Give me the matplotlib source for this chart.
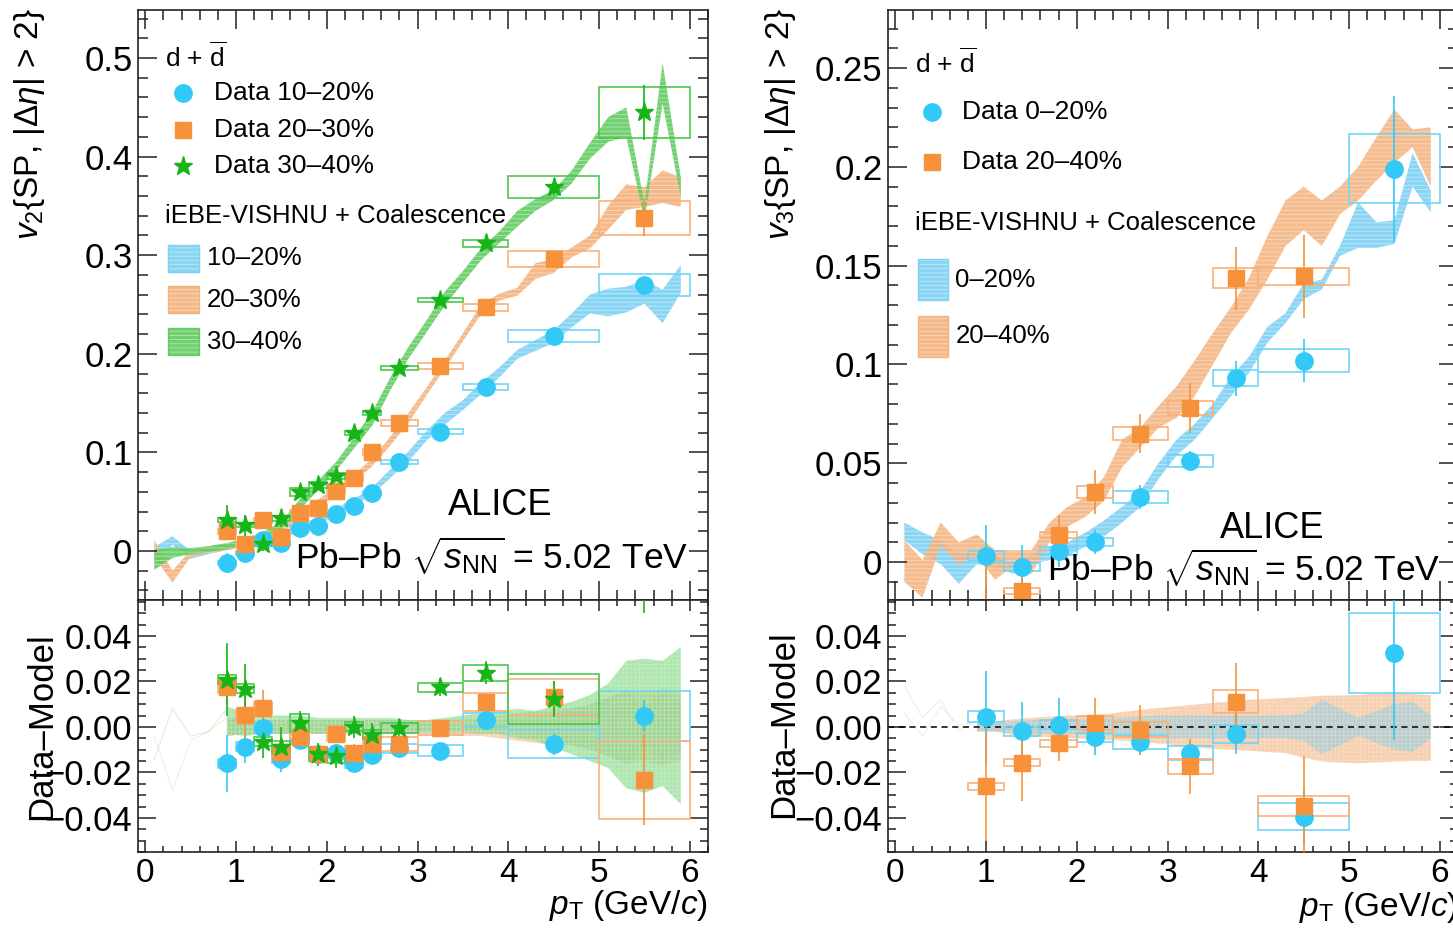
import numpy as np
import matplotlib.pyplot as plt
from matplotlib.patches import Rectangle
from matplotlib.colors import to_rgb
from matplotlib.ticker import MultipleLocator, FuncFormatter

plt.rcParams['font.family'] = ['Liberation Sans', 'DejaVu Sans']
plt.rcParams['mathtext.fontset'] = 'custom'
plt.rcParams['mathtext.rm'] = 'Liberation Sans'
plt.rcParams['mathtext.it'] = 'Liberation Sans:italic'
plt.rcParams['mathtext.bf'] = 'Liberation Sans:bold'
plt.rcParams['hatch.linewidth'] = 0.6

# ---------------- data: v2 (left) ----------------
pt_v2 = [0.9, 1.1, 1.3, 1.5, 1.7, 1.9, 2.1, 2.3, 2.5, 2.8, 3.25, 3.75, 4.5, 5.5]
pt_v2_lo = [0.8, 1.0, 1.2, 1.4, 1.6, 1.8, 2.0, 2.2, 2.4, 2.6, 3.0, 3.5, 4.0, 5.0]
pt_v2_hi = [1.0, 1.2, 1.4, 1.6, 1.8, 2.0, 2.2, 2.4, 2.6, 3.0, 3.5, 4.0, 5.0, 6.0]

v2_c1020 = [-0.012, -0.002, 0.011, 0.008, 0.023, 0.025, 0.038, 0.046, 0.059, 0.090, 0.121, 0.166, 0.218, 0.270]
v2_c2030 = [0.020, 0.007, 0.031, 0.014, 0.039, 0.044, 0.061, 0.074, 0.100, 0.130, 0.188, 0.247, 0.296, 0.338]
v2_c3040 = [0.031, 0.026, 0.007, 0.033, 0.060, 0.067, 0.076, 0.120, 0.140, 0.186, 0.255, 0.312, 0.369, 0.445]

stat_v2_c1020 = [0.010, 0.007, 0.004, 0.006, 0.004, 0.004, 0.004, 0.004, 0.004, 0.003, 0.003, 0.004, 0.005, 0.007]
stat_v2_c2030 = [0.008, 0.010, 0.008, 0.006, 0.004, 0.004, 0.004, 0.004, 0.003, 0.003, 0.003, 0.004, 0.008, 0.019]
stat_v2_c3040 = [0.016, 0.011, 0.007, 0.009, 0.005, 0.005, 0.005, 0.005, 0.005, 0.004, 0.004, 0.005, 0.008, 0.028]

syst_v2_c1020 = [0.002, 0.002, 0.002, 0.002, 0.002, 0.002, 0.002, 0.002, 0.002, 0.002, 0.0025, 0.003, 0.006, 0.011]
syst_v2_c2030 = [0.0025, 0.0025, 0.0025, 0.003, 0.003, 0.003, 0.003, 0.003, 0.003, 0.003, 0.003, 0.004, 0.008, 0.017]
syst_v2_c3040 = [0.002, 0.002, 0.002, 0.003, 0.004, 0.003, 0.003, 0.002, 0.002, 0.002, 0.002, 0.0035, 0.011, 0.026]

# Data - Model (left)
r2_c1020 = [-0.016, -0.0088, -0.0005, -0.014, -0.0057, -0.012, -0.0115, -0.016, -0.0123, -0.0094, -0.0105, 0.003, -0.0075, 0.0049]
r2_c2030 = [0.0176, 0.0053, 0.0083, -0.011, -0.0044, -0.012, -0.003, -0.0114, -0.0075, -0.0075, -0.0004, 0.011, 0.0132, -0.0233]
r2_c3040 = [0.0207, 0.0167, -0.0065, -0.009, 0.0018, -0.012, -0.013, 0.000, -0.0035, -0.0005, 0.0175, 0.0238, 0.0122, 0.090]
rstat2_c1020 = [0.0125, 0.007, 0.005, 0.006, 0.004, 0.004, 0.004, 0.004, 0.004, 0.003, 0.003, 0.004, 0.005, 0.007]
rstat2_c2030 = [0.008, 0.010, 0.008, 0.006, 0.004, 0.004, 0.004, 0.004, 0.003, 0.003, 0.003, 0.004, 0.007, 0.020]
rstat2_c3040 = [0.016, 0.011, 0.007, 0.009, 0.005, 0.005, 0.005, 0.005, 0.005, 0.004, 0.004, 0.005, 0.008, 0.040]

# model bands (iEBE-VISHNU + coalescence), v2
pt_band = [0.1, 0.3, 0.5, 0.7, 0.9, 1.1, 1.3, 1.5, 1.7, 1.9, 2.1, 2.3, 2.5, 2.7, 2.9,
           3.1, 3.3, 3.5, 3.7, 3.9, 4.1, 4.3, 4.5, 4.7, 4.9, 5.1, 5.3, 5.5, 5.7, 5.9]
m2_c1020_lo = [-0.009, 0.006, -0.008, -0.003, 0.001, 0.004, 0.008, 0.013, 0.019, 0.027, 0.036, 0.046, 0.057, 0.074, 0.091,
               0.112, 0.128, 0.143, 0.159, 0.176, 0.195, 0.203, 0.211, 0.227, 0.241, 0.238, 0.242, 0.251, 0.231, 0.262]
m2_c1020_hi = [0.004, 0.015, 0.000, 0.004, 0.007, 0.010, 0.014, 0.019, 0.026, 0.034, 0.043, 0.053, 0.064, 0.083, 0.101,
               0.122, 0.140, 0.153, 0.171, 0.186, 0.204, 0.214, 0.224, 0.241, 0.260, 0.266, 0.268, 0.275, 0.265, 0.290]
m2_c2030_lo = [-0.006, -0.032, -0.006, -0.002, 0.001, 0.004, 0.009, 0.018, 0.033, 0.045, 0.057, 0.070, 0.086, 0.107, 0.130,
               0.158, 0.185, 0.213, 0.240, 0.254, 0.259, 0.276, 0.282, 0.298, 0.307, 0.326, 0.346, 0.349, 0.353, 0.349]
m2_c2030_hi = [0.011, -0.020, 0.001, 0.004, 0.007, 0.010, 0.016, 0.025, 0.040, 0.052, 0.064, 0.077, 0.094, 0.116, 0.140,
               0.166, 0.193, 0.221, 0.250, 0.261, 0.267, 0.292, 0.296, 0.308, 0.320, 0.350, 0.372, 0.369, 0.386, 0.379]
m2_c3040_lo = [-0.019, -0.007, -0.003, -0.001, 0.002, 0.006, 0.012, 0.022, 0.042, 0.061, 0.081, 0.104, 0.127, 0.163, 0.195,
               0.222, 0.249, 0.272, 0.295, 0.312, 0.329, 0.345, 0.356, 0.373, 0.398, 0.415, 0.420, 0.336, 0.454, 0.359]
m2_c3040_hi = [0.001, 0.004, 0.003, 0.005, 0.008, 0.013, 0.019, 0.030, 0.052, 0.071, 0.090, 0.115, 0.141, 0.176, 0.207,
               0.234, 0.263, 0.284, 0.307, 0.324, 0.345, 0.357, 0.366, 0.386, 0.414, 0.440, 0.450, 0.352, 0.495, 0.379]

# model uncertainty in the Data-Model panels
pt_r = [0.9, 1.1, 1.3, 1.5, 1.7, 1.9, 2.1, 2.3, 2.5, 2.7, 2.9, 3.1, 3.3,
        3.5, 3.7, 3.9, 4.1, 4.3, 4.5, 4.7, 4.9, 5.1, 5.3, 5.5, 5.7, 5.9]
rb2_c1020_half = [0.004, 0.003, 0.003, 0.003, 0.003, 0.003, 0.003, 0.003, 0.003, 0.003, 0.003, 0.003, 0.003,
                  0.003, 0.003, 0.003, 0.004, 0.005, 0.006, 0.008, 0.010, 0.013, 0.016, 0.008, 0.015, 0.011]
rb2_c2030_half = [0.004, 0.003, 0.003, 0.003, 0.003, 0.003, 0.003, 0.003, 0.003, 0.003, 0.003, 0.003, 0.003,
                  0.004, 0.004, 0.005, 0.006, 0.007, 0.008, 0.008, 0.010, 0.013, 0.016, 0.015, 0.017, 0.015]
rb2_c3040_lo = [-0.003, -0.004, -0.003, -0.003, -0.003, -0.003, -0.003, -0.002, -0.002, -0.002, -0.002, -0.002, -0.002,
                -0.002, -0.003, -0.003, -0.005, -0.006, -0.009, -0.012, -0.015, -0.018, -0.027, -0.029, -0.026, -0.034]
rb2_c3040_hi = [0.009, 0.006, 0.005, 0.005, 0.005, 0.004, 0.004, 0.004, 0.004, 0.004, 0.003, 0.003, 0.004,
                0.005, 0.006, 0.007, 0.008, 0.007, 0.009, 0.011, 0.014, 0.019, 0.029, 0.030, 0.029, 0.035]
pt_faint = [0.1, 0.3, 0.5, 0.7, 0.9]
faint2_a = [-0.014, 0.008, -0.004, -0.002, 0.008]
faint2_b = [-0.004, -0.028, -0.006, -0.002, 0.004]

# ---------------- data: v3 (right) ----------------
pt_v3 = [1.0, 1.4, 1.8, 2.2, 2.7, 3.25, 3.75, 4.5, 5.5]
pt_v3_lo = [0.8, 1.2, 1.6, 2.0, 2.4, 3.0, 3.5, 4.0, 5.0]
pt_v3_hi = [1.2, 1.6, 2.0, 2.4, 3.0, 3.5, 4.0, 5.0, 6.0]

v3_c0020 = [0.003, -0.0025, 0.0056, 0.010, 0.033, 0.051, 0.093, 0.102, 0.199]
v3_c2040 = [-0.026, -0.0147, 0.0137, 0.0355, 0.065, 0.078, 0.1437, 0.1447]
stat_v3_c0020 = [0.016, 0.011, 0.008, 0.006, 0.006, 0.005, 0.009, 0.011, 0.037]
stat_v3_c2040 = [0.026, 0.017, 0.010, 0.011, 0.010, 0.0125, 0.016, 0.021]
syst_v3_c0020 = [0.0025, 0.002, 0.002, 0.002, 0.003, 0.003, 0.004, 0.006, 0.0175]
syst_v3_c2040 = [0.0015, 0.0015, 0.0015, 0.003, 0.0033, 0.0035, 0.005, 0.0043]

r3_c0020 = [0.0045, -0.002, 0.0009, -0.0045, -0.0065, -0.0116, -0.0031, -0.0394, 0.0324]
r3_c2040 = [-0.0262, -0.0157, -0.0072, 0.0016, -0.0013, -0.0174, 0.0111, -0.0347]
rstat3_c0020 = [0.020, 0.013, 0.012, 0.008, 0.006, 0.005, 0.009, 0.012, 0.038]
rstat3_c2040 = [0.024, 0.017, 0.008, 0.011, 0.011, 0.012, 0.017, 0.022]

m3_c0020_lo = [0.011, 0.004, -0.001, -0.011, -0.001, -0.002, -0.006, -0.001, 0.001, 0.003, 0.008, 0.013, 0.020, 0.028, 0.042,
               0.054, 0.062, 0.073, 0.084, 0.096, 0.111, 0.121, 0.133, 0.138, 0.155, 0.159, 0.159, 0.161, 0.190, 0.177]
m3_c0020_hi = [0.020, 0.015, 0.011, 0.004, 0.005, 0.003, -0.001, 0.004, 0.008, 0.010, 0.015, 0.021, 0.028, 0.036, 0.050,
               0.062, 0.070, 0.080, 0.094, 0.104, 0.119, 0.126, 0.141, 0.143, 0.160, 0.182, 0.172, 0.173, 0.207, 0.188]
m3_c2040_lo = [-0.010, -0.018, 0.008, -0.001, 0.003, -0.009, -0.002, -0.006, 0.010, 0.018, 0.023, 0.031, 0.048, 0.058, 0.068,
               0.073, 0.084, 0.100, 0.116, 0.128, 0.143, 0.160, 0.168, 0.160, 0.176, 0.183, 0.193, 0.202, 0.210, 0.190]
m3_c2040_hi = [0.011, 0.001, 0.020, 0.010, 0.014, 0.006, 0.006, 0.006, 0.020, 0.028, 0.033, 0.043, 0.062, 0.068, 0.079,
               0.089, 0.102, 0.116, 0.129, 0.144, 0.165, 0.183, 0.190, 0.183, 0.190, 0.200, 0.215, 0.229, 0.219, 0.220]

rb3_c0020_half = [0.002, 0.002, 0.0025, 0.003, 0.003, 0.003, 0.0035, 0.004, 0.004, 0.0045, 0.005, 0.005, 0.005,
                  0.005, 0.005, 0.005, 0.005, 0.005, 0.006, 0.012, 0.008, 0.004, 0.007, 0.010, 0.011, 0.005]
rb3_c2040_lo = [-0.002, -0.002, -0.0035, -0.0043, -0.0045, -0.0048, -0.0052, -0.0057, -0.006, -0.0065, -0.0073, -0.008, -0.009,
                -0.0097, -0.010, -0.0104, -0.011, -0.0115, -0.0135, -0.0152, -0.0157, -0.016, -0.0156, -0.0152, -0.015, -0.015]
rb3_c2040_hi = [0.002, 0.0025, 0.0033, 0.004, 0.0045, 0.005, 0.005, 0.0055, 0.0065, 0.0075, 0.0083, 0.009, 0.0098,
                0.0105, 0.0113, 0.012, 0.0123, 0.0127, 0.0132, 0.0137, 0.0138, 0.014, 0.0145, 0.015, 0.0145, 0.014]
faint3_a = [0.018, 0.004, 0.012, -0.002, 0.003]
faint3_b = [0.006, -0.004, 0.009, 0.001, 0.002]

# ---------------- style ----------------
c_blue, c_orange, c_green = '#33c9f7', '#f7923a', '#17b517'
box_blue, box_orange, box_green = '#6fd6f7', '#f8b07a', '#4cc84c'
band_blue, band_orange, band_green = '#7fd1f3', '#f4b27c', '#62cb62'

W, H = 1453.0, 930.0
fig = plt.figure(figsize=(14.53, 9.30), dpi=100)
axL_top = fig.add_axes([138 / W, 1 - 600 / H, 570 / W, 590 / H])
axL_bot = fig.add_axes([138 / W, 1 - 852 / H, 570 / W, 252 / H])
axR_top = fig.add_axes([888 / W, 1 - 600 / H, 570 / W, 590 / H])
axR_bot = fig.add_axes([888 / W, 1 - 852 / H, 570 / W, 252 / H])


def tint(color, f=0.55):
    return tuple(np.array(to_rgb(color)) * (1 - f) + f)


def band(ax, x, lo, hi, color, hatch='----', alpha=0.9, z=1):
    ax.fill_between(x, lo, hi, facecolor=color, edgecolor=tint(color), hatch=hatch,
                    linewidth=0, alpha=alpha, zorder=z)


def points(ax, x, y, stat, syst, xlo, xhi, color, boxc, marker, ms):
    for xi, yi, s, l, h in zip(x, y, syst, xlo, xhi):
        ax.add_patch(Rectangle((l, yi - s), h - l, 2 * s, fill=False, ec=boxc, lw=1.2, zorder=3))
    ax.errorbar(x, y, yerr=stat, fmt=marker, color=color, ms=ms, mec=color,
                elinewidth=1.2, capsize=0, zorder=4)


def frame(ax, ylim, ymaj, ymin, top, fmt):
    ax.set_xlim(-0.08, 6.2)
    ax.set_ylim(*ylim)
    ax.xaxis.set_major_locator(MultipleLocator(1))
    ax.xaxis.set_minor_locator(MultipleLocator(0.2))
    ax.yaxis.set_major_locator(MultipleLocator(ymaj))
    ax.yaxis.set_minor_locator(MultipleLocator(ymin))
    ax.yaxis.set_major_formatter(FuncFormatter(fmt))
    ax.tick_params(which='both', direction='in', top=True, right=True, width=1.1, colors='#222222')
    if top:
        ax.tick_params(axis='y', which='major', length=14)
        ax.tick_params(axis='y', which='minor', length=7)
        ax.tick_params(axis='x', which='major', length=14)
        ax.tick_params(axis='x', which='minor', length=7)
        ax.tick_params(axis='x', labelbottom=False)
    else:
        ax.tick_params(axis='y', which='major', length=13)
        ax.tick_params(axis='y', which='minor', length=6)
        ax.tick_params(axis='x', which='major', length=8)
        ax.tick_params(axis='x', which='minor', length=4)
        ax.tick_params(axis='x', labelsize=24, pad=4, labelcolor='black')
    ax.tick_params(axis='y', labelsize=25, pad=4, labelcolor='black')
    for sp in ax.spines.values():
        sp.set_linewidth(1.2)
        sp.set_color('#222222')


fmt_g = lambda v, p: '0' if abs(v) < 1e-9 else f'{v:g}'
fmt_r = lambda v, p: f'{round(v, 4) + 0.0:.2f}'.replace('-', '\u2212')

# ---- left top: v2 ----
ax = axL_top
band(ax, pt_band, m2_c1020_lo, m2_c1020_hi, band_blue)
band(ax, pt_band, m2_c2030_lo, m2_c2030_hi, band_orange)
band(ax, pt_band, m2_c3040_lo, m2_c3040_hi, band_green)
points(ax, pt_v2, v2_c1020, stat_v2_c1020, syst_v2_c1020, pt_v2_lo, pt_v2_hi, c_blue, box_blue, 'o', 12.5)
points(ax, pt_v2, v2_c2030, stat_v2_c2030, syst_v2_c2030, pt_v2_lo, pt_v2_hi, c_orange, box_orange, 's', 11.5)
points(ax, pt_v2, v2_c3040, stat_v2_c3040, syst_v2_c3040, pt_v2_lo, pt_v2_hi, c_green, box_green, '*', 14)
frame(ax, (-0.0497, 0.5487), 0.1, 0.02, True, fmt_g)

T = ax.transAxes
ax.text(0.047, 0.920, r'd + $\overline{\rm d}$', transform=T, fontsize=19, va='center')
leg = [(0.859, c_blue, 'o', 12.5, 'Data 10\u201320%'),
       (0.797, c_orange, 's', 11.5, 'Data 20\u201330%'),
       (0.736, c_green, '*', 14, 'Data 30\u201340%')]
for fy, col, mk, ms, lab in leg:
    ax.plot([0.079], [fy], mk, color=col, ms=ms, transform=T, clip_on=False)
    ax.text(0.133, fy, lab, transform=T, fontsize=19, va='center')
ax.text(0.047, 0.651, 'iEBE-VISHNU + Coalescence', transform=T, fontsize=18.5, va='center')
for fy, col, lab in [(0.556, band_blue, '10\u201320%'), (0.486, band_orange, '20\u201330%'),
                     (0.415, band_green, '30\u201340%')]:
    ax.add_patch(Rectangle((0.053, fy), 0.054, 0.046, transform=T, facecolor=col, edgecolor=tint(col),
                           hatch='----', lw=0, alpha=0.9, clip_on=False))
    ax.add_patch(Rectangle((0.053, fy), 0.054, 0.046, transform=T, fill=False,
                           edgecolor=col, lw=1.0, clip_on=False))
    ax.text(0.121, fy + 0.023, lab, transform=T, fontsize=18.5, va='center')
ax.text(0.635, 0.161, 'ALICE', transform=T, fontsize=26, ha='center', va='center')
ax.text(0.965, 0.075, 'Pb\u2013Pb ' + r'$\sqrt{s_{\rm NN}}$ = 5.02 TeV',
        transform=T, fontsize=25.5, ha='right', va='center')

# ---- left bottom: v2 data - model ----
ax = axL_bot
ax.plot(pt_faint, faint2_a, color=band_green, lw=0.8, alpha=0.25, zorder=1)
ax.plot(pt_faint, faint2_b, color=band_orange, lw=0.8, alpha=0.25, zorder=1)
h1 = np.array(rb2_c1020_half)
h2 = np.array(rb2_c2030_half)
band(ax, pt_r, -h1, h1, band_blue, hatch='++++', alpha=0.55)
band(ax, pt_r, -h2, h2, band_orange, hatch='++++', alpha=0.55)
band(ax, pt_r, rb2_c3040_lo, rb2_c3040_hi, '#84d984', hatch='++++', alpha=0.65)
points(ax, pt_v2, r2_c1020, rstat2_c1020, syst_v2_c1020, pt_v2_lo, pt_v2_hi, c_blue, box_blue, 'o', 12.5)
points(ax, pt_v2, r2_c2030, rstat2_c2030, syst_v2_c2030, pt_v2_lo, pt_v2_hi, c_orange, box_orange, 's', 11.5)
points(ax, pt_v2, r2_c3040, rstat2_c3040, syst_v2_c3040, pt_v2_lo, pt_v2_hi, c_green, box_green, '*', 14)
frame(ax, (-0.055, 0.0558), 0.02, 0.005, False, fmt_r)

# ---- right top: v3 ----
ax = axR_top
band(ax, pt_band, m3_c0020_lo, m3_c0020_hi, band_blue)
band(ax, pt_band, m3_c2040_lo, m3_c2040_hi, band_orange, alpha=0.85)
points(ax, pt_v3, v3_c0020, stat_v3_c0020, syst_v3_c0020, pt_v3_lo, pt_v3_hi, c_blue, box_blue, 'o', 12.5)
points(ax, pt_v3[:8], v3_c2040, stat_v3_c2040, syst_v3_c2040, pt_v3_lo[:8], pt_v3_hi[:8], c_orange, box_orange, 's', 12)
frame(ax, (-0.0192, 0.2794), 0.05, 0.01, True, fmt_g)

T = ax.transAxes
ax.text(0.047, 0.910, r'd + $\overline{\rm d}$', transform=T, fontsize=19, va='center')
for fy, col, mk, ms, lab in [(0.827, c_blue, 'o', 12.5, 'Data 0\u201320%'),
                             (0.742, c_orange, 's', 11.5, 'Data 20\u201340%')]:
    ax.plot([0.077], [fy], mk, color=col, ms=ms, transform=T, clip_on=False)
    ax.text(0.130, fy, lab, transform=T, fontsize=19, va='center')
ax.text(0.047, 0.639, 'iEBE-VISHNU + Coalescence', transform=T, fontsize=18.5, va='center')
for fy, col, lab in [(0.508, band_blue, '0\u201320%'), (0.412, band_orange, '20\u201340%')]:
    ax.add_patch(Rectangle((0.053, fy), 0.052, 0.070, transform=T, facecolor=col, edgecolor=tint(col),
                           hatch='----', lw=0, alpha=0.9, clip_on=False))
    ax.add_patch(Rectangle((0.053, fy), 0.052, 0.070, transform=T, fill=False,
                           edgecolor=col, lw=1.0, clip_on=False))
    ax.text(0.118, fy + 0.035, lab, transform=T, fontsize=18.5, va='center')
ax.text(0.674, 0.122, 'ALICE', transform=T, fontsize=26, ha='center', va='center')
ax.text(0.968, 0.055, 'Pb\u2013Pb ' + r'$\sqrt{s_{\rm NN}}$ = 5.02 TeV',
        transform=T, fontsize=25.5, ha='right', va='center')

# ---- right bottom: v3 data - model ----
ax = axR_bot
ax.plot(pt_faint, faint3_a, color=band_blue, lw=0.8, alpha=0.25, zorder=1)
ax.plot(pt_faint, faint3_b, color=band_orange, lw=0.8, alpha=0.25, zorder=1)
band(ax, pt_r, rb3_c2040_lo, rb3_c2040_hi, '#f4bc8e', hatch='++++', alpha=0.7)
h3 = np.array(rb3_c0020_half)
band(ax, pt_r, -h3, h3, '#8cc9dd', hatch='++++', alpha=0.5)
ax.axhline(0, color='black', lw=1.1, ls=(0, (4, 3)), zorder=2)
points(ax, pt_v3, r3_c0020, rstat3_c0020, syst_v3_c0020, pt_v3_lo, pt_v3_hi, c_blue, box_blue, 'o', 12.5)
points(ax, pt_v3[:8], r3_c2040, rstat3_c2040, syst_v3_c2040, pt_v3_lo[:8], pt_v3_hi[:8], c_orange, box_orange, 's', 12)
frame(ax, (-0.055, 0.0558), 0.02, 0.005, False, fmt_r)

# ---- axis titles ----
ylab2 = r'$v_{2}$' + '{SP, |' + r'$\Delta\eta$' + '| > 2}'
ylab3 = r'$v_{3}$' + '{SP, |' + r'$\Delta\eta$' + '| > 2}'
fig.text(30 / W, 1 - 8 / H, ylab2, rotation=90, ha='center', va='top', fontsize=24)
fig.text(780 / W, 1 - 8 / H, ylab3, rotation=90, ha='center', va='top', fontsize=24)
fig.text(42 / W, 1 - 726 / H, 'Data\u2013Model', rotation=90, ha='center', va='center', fontsize=25)
fig.text(784 / W, 1 - 724 / H, 'Data\u2013Model', rotation=90, ha='center', va='center', fontsize=25)
xlab = r'$p_{\rm T}$ (GeV/$c$)'
fig.text(708 / W, 1 - 905 / H, xlab, ha='right', va='center', fontsize=24)
fig.text(1458 / W, 1 - 907 / H, xlab, ha='right', va='center', fontsize=24)

fig.savefig('out.png', dpi=100)
